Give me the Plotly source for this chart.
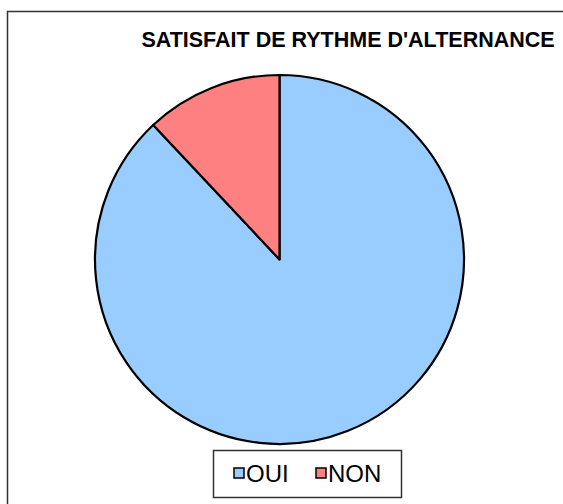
import plotly.graph_objects as go

# data
labels = ["OUI", "NON"]
values = [88, 12]
colors = ["#99CCFF", "#FF8080"]
title_text = "SATISFAIT DE RYTHME D'ALTERNANCE"

W, H = 563, 504
FONT = "Liberation Sans, Arial, sans-serif"


def px_x(x):
    return x / W


def px_y(y):
    return 1 - y / H


fig = go.Figure(
    go.Pie(
        labels=labels,
        values=values,
        sort=False,
        direction="clockwise",
        rotation=0,
        marker=dict(colors=colors, line=dict(color="black", width=2.2)),
        textinfo="none",
        hoverinfo="label+value+percent",
        domain=dict(x=[px_x(95), px_x(464)], y=[px_y(444), px_y(75)]),
    )
)

shapes = [
    # outer chart frame (right/bottom edges fall outside the picture)
    dict(type="rect", xref="paper", yref="paper",
         x0=px_x(7.5), x1=1.05, y0=-0.05, y1=px_y(11.5),
         line=dict(color="#333333", width=1.5), fillcolor="rgba(0,0,0,0)"),
    # legend box
    dict(type="rect", xref="paper", yref="paper",
         x0=px_x(213.5), x1=px_x(401.5), y0=px_y(497.5), y1=px_y(450.5),
         line=dict(color="#333333", width=1.5), fillcolor="rgba(0,0,0,0)"),
]
annotations = []

# legend entries drawn like the spreadsheet legend: small square then label
legend_x = [234, 316]
for lab, col, lx in zip(labels, colors, legend_x):
    shapes.append(dict(type="rect", xref="paper", yref="paper",
                       x0=px_x(lx), x1=px_x(lx + 10), y0=px_y(478), y1=px_y(468),
                       line=dict(color="black", width=1.5), fillcolor=col))
    annotations.append(dict(text=lab, xref="paper", yref="paper",
                            x=px_x(lx + 10), y=px_y(473.5), xanchor="left", yanchor="middle",
                            showarrow=False,
                            font=dict(family=FONT, size=24, color="black")))

fig.update_layout(
    width=W,
    height=H,
    margin=dict(l=0, r=0, t=0, b=0),
    paper_bgcolor="white",
    plot_bgcolor="white",
    font=dict(family=FONT, color="black"),
    title=dict(
        text="<b>" + title_text + "</b>",
        font=dict(family=FONT, size=21.5, color="black"),
        x=px_x(348),
        xanchor="center",
        y=px_y(39),
        yanchor="middle",
    ),
    showlegend=False,
    shapes=shapes,
    annotations=annotations,
)

fig.write_html("out.html", config={"displayModeBar": False},
               post_script="document.body.style.margin='0';")
